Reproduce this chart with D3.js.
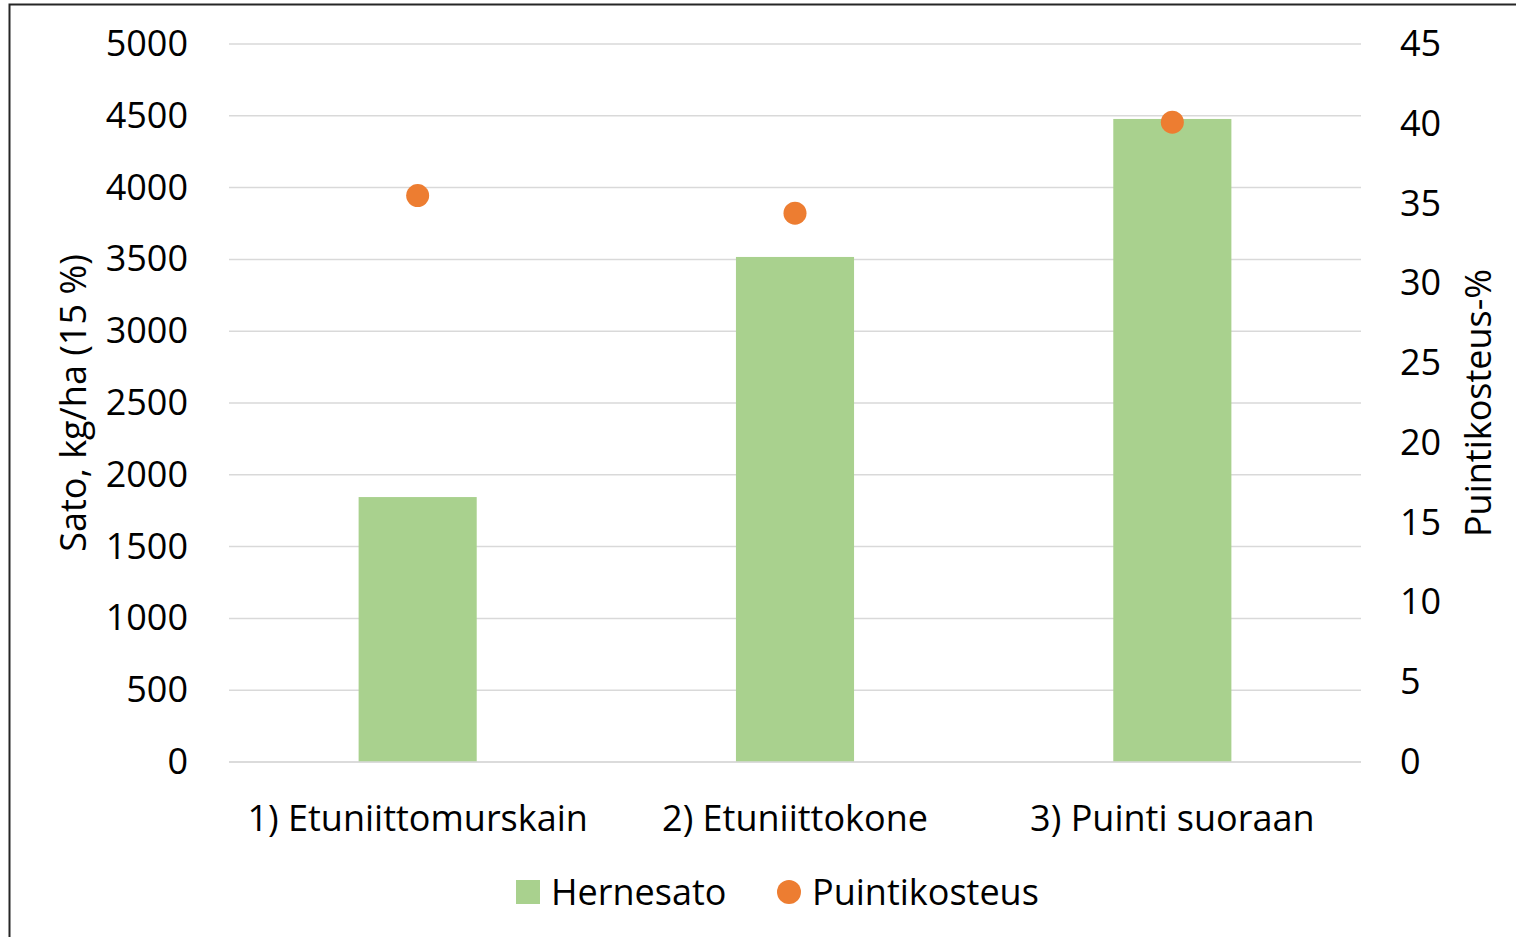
<!DOCTYPE html>
<html>
<head>
<meta charset="utf-8">
<script src="https://cdn.jsdelivr.net/npm/d3@7"></script>
<style>
  body { margin: 0; background: #fff; }
  text { font-family: "Open Sans", sans-serif; fill: #000; }
</style>
</head>
<body>
<svg width="1516" height="937"></svg>
<script>
// data
const categories = ["1) Etuniittomurskain", "2) Etuniittokone", "3) Puinti suoraan"];
const hernesato = [1845, 3517, 4478];
const puintikosteus = [35.5, 34.4, 40.1];
const leftTicks = [0, 500, 1000, 1500, 2000, 2500, 3000, 3500, 4000, 4500, 5000];
const rightTicks = [0, 5, 10, 15, 20, 25, 30, 35, 40, 45];

const svg = d3.select("svg");
const margin = { left: 229, right: 1361, top: 44, bottom: 762 };
const fontSize = 36;

// chart frame
svg.append("rect")
  .attr("x", 9.5).attr("y", 4.5)
  .attr("width", 1520).attr("height", 950)
  .attr("fill", "none").attr("stroke", "#262626").attr("stroke-width", 2);

const x = d3.scaleBand()
  .domain(categories)
  .range([margin.left, margin.right])
  .paddingInner(0.687)
  .paddingOuter(0.3435);

const yL = d3.scaleLinear().domain([0, 5000]).range([margin.bottom, margin.top]);
const yR = d3.scaleLinear().domain([0, 45]).range([margin.bottom, margin.top]);

// gridlines
svg.append("g")
  .selectAll("line")
  .data(leftTicks)
  .join("line")
  .attr("x1", margin.left).attr("x2", margin.right)
  .attr("y1", d => yL(d)).attr("y2", d => yL(d))
  .attr("stroke", "#d9d9d9").attr("stroke-width", 1.5);

// left axis
const axL = svg.append("g")
  .attr("transform", `translate(${margin.left},0)`)
  .call(d3.axisLeft(yL).tickValues(leftTicks).tickFormat(d3.format("d")).tickSize(0).tickPadding(41));
axL.select(".domain").remove();
axL.selectAll("text").style("font-size", fontSize + "px").attr("font-family", null);

// right axis
const axR = svg.append("g")
  .attr("transform", `translate(${margin.right},0)`)
  .call(d3.axisRight(yR).tickValues(rightTicks).tickFormat(d3.format("d")).tickSize(0).tickPadding(39));
axR.select(".domain").remove();
axR.selectAll("text").style("font-size", fontSize + "px").attr("font-family", null);

// bars
svg.append("g")
  .selectAll("rect")
  .data(hernesato)
  .join("rect")
  .attr("x", (d, i) => x(categories[i]))
  .attr("y", d => yL(d))
  .attr("width", x.bandwidth())
  .attr("height", d => yL(0) - yL(d))
  .attr("fill", "#a9d18e");

// zero line over bars
svg.append("line")
  .attr("x1", margin.left).attr("x2", margin.right)
  .attr("y1", yL(0)).attr("y2", yL(0))
  .attr("stroke", "#d9d9d9").attr("stroke-width", 1.5);

// dots
svg.append("g")
  .selectAll("circle")
  .data(puintikosteus)
  .join("circle")
  .attr("cx", (d, i) => x(categories[i]) + x.bandwidth() / 2)
  .attr("cy", d => yR(d))
  .attr("r", 11.5)
  .attr("fill", "#ed7d31");

// category labels
svg.append("g")
  .selectAll("text")
  .data(categories)
  .join("text")
  .attr("x", d => x(d) + x.bandwidth() / 2)
  .attr("y", 831)
  .attr("text-anchor", "middle")
  .style("font-size", fontSize + "px")
  .text(d => d);

// axis titles
svg.append("text")
  .attr("transform", `translate(86,${(margin.top + margin.bottom) / 2}) rotate(-90)`)
  .attr("text-anchor", "middle")
  .style("font-size", fontSize + "px")
  .text("Sato, kg/ha (15 %)");

svg.append("text")
  .attr("transform", `translate(1491,${(margin.top + margin.bottom) / 2}) rotate(-90)`)
  .attr("text-anchor", "middle")
  .style("font-size", fontSize + "px")
  .text("Puintikosteus-%");

// legend
const lg = svg.append("g");
lg.append("rect").attr("x", 516).attr("y", 880).attr("width", 24).attr("height", 24).attr("fill", "#a9d18e");
lg.append("text").attr("x", 551).attr("y", 905).style("font-size", fontSize + "px").text("Hernesato");
lg.append("circle").attr("cx", 789).attr("cy", 892).attr("r", 12).attr("fill", "#ed7d31");
lg.append("text").attr("x", 812).attr("y", 905).style("font-size", fontSize + "px").text("Puintikosteus");
</script>
</body>
</html>
